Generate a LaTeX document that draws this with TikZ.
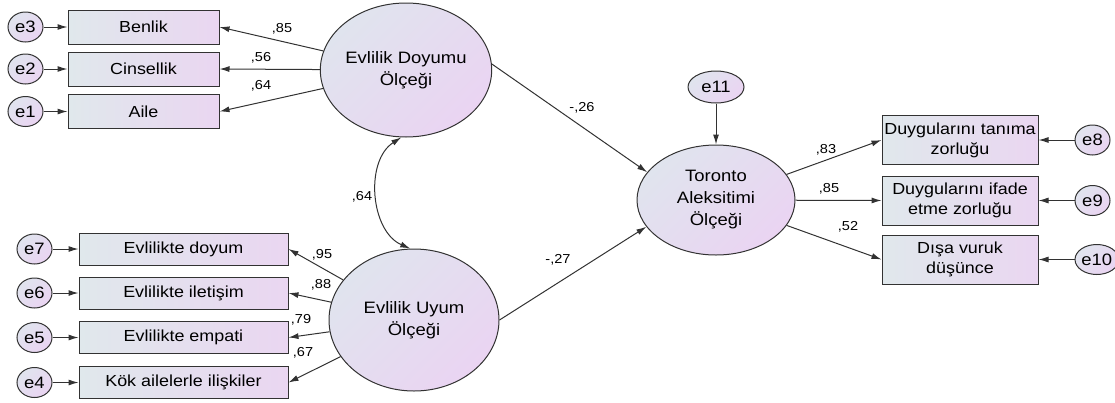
\documentclass[tikz,border=0pt]{standalone}
\usepackage{fontspec}
\setmainfont[FakeStretch=1.12]{Liberation Sans}
\usepackage{tikz}
\usetikzlibrary{
	arrows.meta,
	positioning,
	shapes.geometric,
	}
\definecolor{boxL}{RGB}{224,232,236}
\definecolor{boxR}{RGB}{234,214,241}
\definecolor{latL}{RGB}{224,228,238}
\definecolor{latR}{RGB}{234,212,242}
\definecolor{edge}{RGB}{50,50,50}

\begin{document}
\begin{tikzpicture}[x=1pt, y=-1pt,
	obs/.style={draw=edge, line width=1pt, rectangle, left color=boxL, right color=boxR, inner sep=0pt, align=center, font=\fontsize{16}{20}\selectfont},
	lat/.style={draw=edge, line width=1pt, ellipse, left color=latL, right color=latR, shading angle=45, inner sep=0pt, align=center, font=\fontsize{16.5}{22}\selectfont},
	err/.style={draw=edge, line width=1pt, ellipse, left color=latL, right color=latR, shading angle=45, minimum width=35pt, minimum height=30pt, inner sep=0pt, font=\fontsize{16.5}{20}\selectfont},
	path/.style={draw=edge, line width=1pt, -{Latex[length=10pt,width=6pt]}},
	coef/.style={font=\fontsize{13}{15}\selectfont, inner sep=0pt},
	]
	\useasboundingbox (0,0) rectangle (1115,402);
	% latent variables
	\node[lat, minimum width=168pt, minimum height=134pt] (edo) at (406,70) {Evlilik Doyumu\\Ölçeği};
	\node[lat, minimum width=170pt, minimum height=142pt] (euy) at (414,320) {Evlilik Uyum\\Ölçeği};
	\node[lat, minimum width=158pt, minimum height=110pt] (tas) at (716,200) {Toronto\\Aleksitimi\\Ölçeği};
	\node[err, minimum width=56pt, minimum height=32pt] (e11) at (716,87) {e11};
	% indicators
	\node[obs, minimum width=151pt, minimum height=34pt] (b3) at (143.5,27) {Benlik};
	\node[obs, minimum width=151pt, minimum height=34pt] (b2) at (143.5,69) {Cinsellik};
	\node[obs, minimum width=151pt, minimum height=34pt] (b1) at (143.5,111.5) {Aile};
	\node[obs, minimum width=209pt, minimum height=32pt] (b7) at (183.5,249) {Evlilikte doyum};
	\node[obs, minimum width=209pt, minimum height=32pt] (b6) at (183.5,293) {Evlilikte iletişim};
	\node[obs, minimum width=209pt, minimum height=32pt] (b5) at (183.5,337.5) {Evlilikte empati};
	\node[obs, minimum width=209pt, minimum height=32pt] (b4) at (183.5,382.5) {Kök ailelerle ilişkiler};
	\node[obs, minimum width=156pt, minimum height=49pt] (b8) at (960,140) {Duygularını tanıma\\zorluğu};
	\node[obs, minimum width=156pt, minimum height=49pt] (b9) at (960,200.5) {Duygularını ifade\\etme zorluğu};
	\node[obs, minimum width=156pt, minimum height=49pt] (b10) at (960,259.5) {Dışa vuruk\\düşünce};
	% errors
	\node[err, left=24pt of b3] (e3) {e3};
	\node[err, left=24pt of b2] (e2) {e2};
	\node[err, left=24pt of b1] (e1) {e1};
	\node[err, left=26pt of b7] (e7) {e7};
	\node[err, left=26pt of b6] (e6) {e6};
	\node[err, left=26pt of b5] (e5) {e5};
	\node[err, left=26pt of b4] (e4) {e4};
	\node[err, right=36pt of b8] (e8) {e8};
	\node[err, right=36pt of b9] (e9) {e9};
	\node[err, right=36pt of b10] (e10) {e10};
	\foreach \i in {1,...,10}
		\draw[path] (e\i) -- (b\i);
	\draw[path] (e11) -- (tas);
	% loadings
	\draw[path] (edo) -- (b3.east);
	\draw[path] (edo) -- (b2.east);
	\draw[path] (edo) -- (b1.east);
	\draw[path] (euy) -- (b7.east);
	\draw[path] (euy) -- (b6.east);
	\draw[path] (euy) -- (b5.east);
	\draw[path] (euy) -- (b4.east);
	\draw[path] (tas) -- (b8.west);
	\draw[path] (tas) -- (b9.west);
	\draw[path] (tas) -- (b10.west);
	\draw[path] (edo.4) -- (tas.158);
	\draw[path] (euy.east) -- (tas.201);
	\draw[path, {Latex[length=10pt,width=6pt]}-{Latex[length=10pt,width=6pt]}] (edo.266) to[bend right=62] (euy.93);
	% coefficients
	\node[coef] (c3) at (282,29) {,85};
	\node[coef] (c2) at (261,58) {,56};
	\node[coef] (c1) at (261,86) {,64};
	\node[coef] (c7) at (322,255) {,95};
	\node[coef] (c6) at (321,285) {,88};
	\node[coef] (c5) at (301,320) {,79};
	\node[coef] (c4) at (303,353) {,67};
	\node[coef] (c8) at (826,150) {,83};
	\node[coef] (c9) at (829,189) {,85};
	\node[coef] (c10) at (848,227) {,52};
	\node[coef] (cov) at (362,197) {,64};
	\node[coef] (g1) at (582,108) {-,26};
	\node[coef] (g2) at (558,260) {-,27};
\end{tikzpicture}
\end{document}
